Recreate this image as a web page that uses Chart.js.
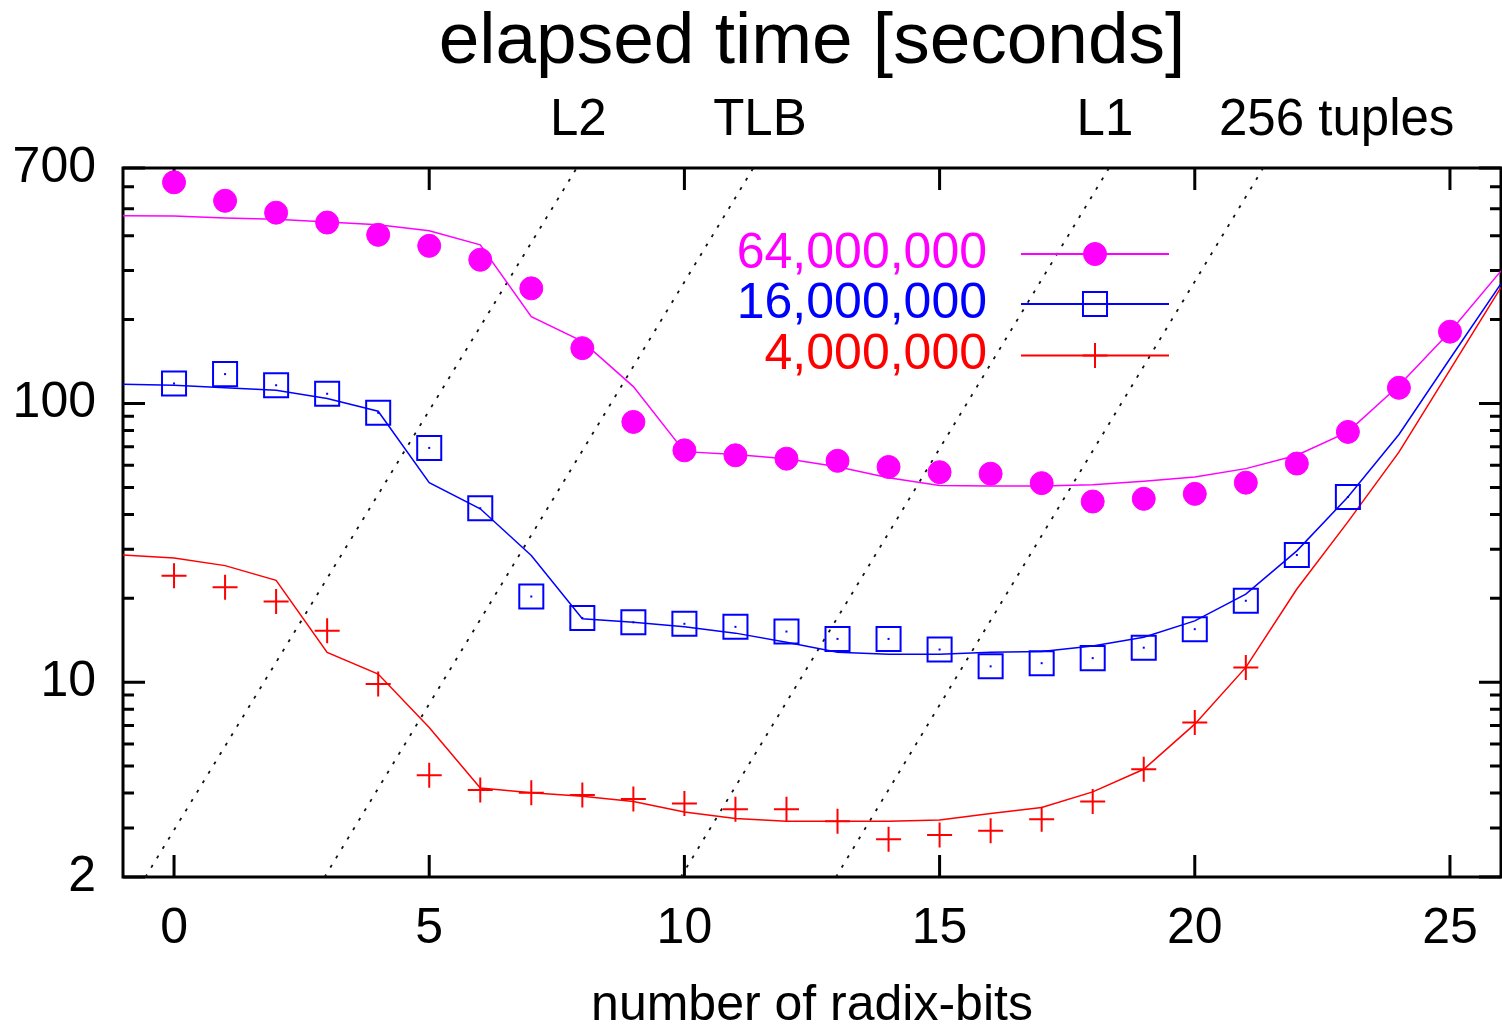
<!DOCTYPE html>
<html>
<head>
<meta charset="utf-8">
<script src="https://cdn.jsdelivr.net/npm/chart.js@4/dist/chart.umd.min.js"></script>
<style>
html,body{margin:0;padding:0;background:#fff;}
canvas{display:block;}
</style>
</head>
<body>
<canvas id="c" width="1502" height="1027"></canvas>
<script>
// ---------- data ----------
const bits = [0,1,2,3,4,5,6,7,8,9,10,11,12,13,14,15,16,17,18,19,20,21,22,23,24,25];
const xTicks = [0,5,10,15,20,25];
const yTicks = [2,10,100,700];
const yMinorTicks = [3,4,5,6,7,8,9,20,30,40,50,60,70,80,90,200,300,400,500,600];
const seriesNames = ['64,000,000','16,000,000','4,000,000'];
const seriesColors = ['#ff00ff','#0000ff','#ff0000'];

// measured points (seconds)
const measured64M = [622,534,484,446,403,368,328,259,158,85.9,67.9,65.2,63.4,62.3,59.2,56.7,56.0,51.8,44.5,45.5,47.4,52.0,60.9,79.1,113.9,181];
const measured16M = [118,127.5,116.3,108.4,92.6,69.3,42.1,20.3,17.0,16.4,16.2,15.8,15.2,14.3,14.3,13.1,11.4,11.7,12.2,13.3,15.5,19.6,28.6,46.2];
const measured4M  = [24.1,21.9,19.5,15.3,9.85,4.64,4.10,4.01,3.94,3.81,3.67,3.50,3.50,3.17,2.73,2.83,2.93,3.22,3.73,4.87,7.17,11.3];

// model curves
const modelBits = [-1,0,1,2,3,4,5,6,7,8,9,10,11,12,13,14,15,16,17,18,19,20,21,22,23,24,25,26];
const model64M = [472,471,463,458,448,438,417,371,205,167,115,67.2,65.6,63.4,59.3,54.2,50.8,50.6,50.6,51.1,52.6,54.5,58.4,65.2,79.1,116,181,299];
const model16M = [117.3,116.3,114,111.6,104.2,93.8,52.0,41.9,28.5,16.9,16.4,15.8,15.0,13.9,12.8,12.6,12.6,12.8,12.9,13.5,14.5,16.6,20.7,29.6,46.2,77.4,144.8,269];
const model4M  = [28.6,27.9,26.2,23.2,12.8,10.7,6.88,4.17,4.01,3.9,3.73,3.42,3.24,3.17,3.17,3.17,3.2,3.38,3.55,4.04,4.87,7.07,11.3,21.6,37.6,66.9,132,261];

// cache-size reference lines
const cacheLabels = ['L2','TLB','L1','256 tuples'];
const cacheLabelBits = [7.92,11.48,18.24,22.78];
const cacheLineLowBits  = [-0.56,2.95,9.93,12.97];  // where each line meets 2 s
const cacheLineHighBits = [7.89,11.35,18.32,21.34]; // where each line meets 700 s
const cacheLineLowY = 2, cacheLineHighY = 700;

// ---------- helpers ----------
const FONT = "'Liberation Sans', Arial, Helvetica, sans-serif";
const pts = (xs, ys) => ys.map((v, i) => ({x: xs[i], y: v}));

const markerStyles = [
  {pointStyle:'circle', radius:11.5, borderWidth:1, fill:true},
  {pointStyle:'rect', radius:17, borderWidth:2, fill:false},
  {pointStyle:'cross', radius:12.5, borderWidth:2, fill:false}
];

const measured = [measured64M, measured16M, measured4M];
const models = [model64M, model16M, model4M];

const datasets = [];
for (let s = 0; s < 3; s++) {
  const m = markerStyles[s];
  datasets.push({
    label: seriesNames[s],
    data: pts(bits, measured[s]),
    showLine: false,
    pointStyle: m.pointStyle,
    pointRadius: m.radius,
    pointBorderWidth: m.borderWidth,
    pointBorderColor: seriesColors[s],
    pointBackgroundColor: m.fill ? seriesColors[s] : 'rgba(0,0,0,0)',
    order: 1
  });
  datasets.push({
    label: seriesNames[s] + ' model',
    data: pts(modelBits, models[s]),
    showLine: true,
    borderColor: seriesColors[s],
    borderWidth: 1.5,
    pointRadius: 0,
    tension: 0,
    order: 2
  });
}
for (let k = 0; k < cacheLabels.length; k++) {
  datasets.push({
    label: cacheLabels[k],
    data: [{x: cacheLineLowBits[k], y: cacheLineLowY}, {x: cacheLineHighBits[k], y: cacheLineHighY}],
    showLine: true,
    borderColor: '#111',
    borderWidth: 1.8,
    borderDash: [3, 8],
    pointRadius: 0,
    order: 10
  });
}

// ---------- gnuplot-like frame, legend and labels ----------
const gnuplotLook = {
  id: 'gnuplotLook',
  beforeDatasetsDraw(chart) {
    const {ctx, chartArea: a, scales: {x, y}} = chart;
    ctx.save();
    ctx.strokeStyle = '#000';
    ctx.lineWidth = 3;
    ctx.beginPath();
    xTicks.forEach(v => {
      const px = x.getPixelForValue(v);
      ctx.moveTo(px, a.bottom); ctx.lineTo(px, a.bottom - 22);
      ctx.moveTo(px, a.top); ctx.lineTo(px, a.top + 22);
    });
    yTicks.forEach(v => {
      const py = y.getPixelForValue(v);
      ctx.moveTo(a.left, py); ctx.lineTo(a.left + 22, py);
      ctx.moveTo(a.right, py); ctx.lineTo(a.right - 22, py);
    });
    yMinorTicks.forEach(v => {
      const py = y.getPixelForValue(v);
      ctx.moveTo(a.left, py); ctx.lineTo(a.left + 11, py);
      ctx.moveTo(a.right, py); ctx.lineTo(a.right - 11, py);
    });
    ctx.stroke();
    ctx.strokeRect(a.left, a.top, a.right - a.left, a.bottom - a.top);
    ctx.restore();
  },
  afterDatasetsDraw(chart) {
    const {ctx} = chart;
    // tiny centre dots in the open squares
    const meta = chart.getDatasetMeta(2);
    ctx.save();
    ctx.fillStyle = seriesColors[1];
    meta.data.forEach(p => ctx.fillRect(p.x - 1, p.y - 1, 2, 2));
    ctx.restore();
  },
  afterDraw(chart) {
    const {ctx, scales: {x}} = chart;
    ctx.save();
    // cache labels above the plot
    ctx.font = '51px ' + FONT;
    ctx.fillStyle = '#000';
    ctx.textAlign = 'center';
    ctx.textBaseline = 'alphabetic';
    cacheLabels.forEach((t, k) => ctx.fillText(t, x.getPixelForValue(cacheLabelBits[k]), 135));
    // legend
    const legendY = [254, 304, 355.5];
    ctx.font = '50px ' + FONT;
    ctx.textAlign = 'right';
    ctx.textBaseline = 'middle';
    for (let s = 0; s < 3; s++) {
      const yy = legendY[s];
      ctx.fillStyle = seriesColors[s];
      ctx.fillText(seriesNames[s], 987, yy);
      ctx.strokeStyle = seriesColors[s];
      ctx.lineWidth = 2;
      ctx.beginPath(); ctx.moveTo(1021, yy); ctx.lineTo(1169, yy); ctx.stroke();
      const m = markerStyles[s];
      ctx.fillStyle = m.fill ? seriesColors[s] : 'rgba(0,0,0,0)';
      ctx.lineWidth = m.borderWidth;
      Chart.helpers.drawPoint(ctx, {pointStyle: m.pointStyle, radius: m.radius, rotation: 0, borderWidth: m.borderWidth}, 1095, yy);
    }
    ctx.restore();
  }
};

new Chart(document.getElementById('c'), {
  type: 'scatter',
  data: {datasets},
  plugins: [gnuplotLook],
  options: {
    responsive: false,
    animation: false,
    devicePixelRatio: 1,
    events: [],
    layout: {autoPadding: false, padding: {left: 0, right: 1, top: 0, bottom: 0}},
    plugins: {
      legend: {display: false},
      tooltip: {enabled: false},
      title: {
        display: true,
        text: 'elapsed time [seconds]',
        fullSize: false,
        color: '#000',
        font: {family: FONT, size: 73, weight: 'normal', lineHeight: 1},
        padding: {top: 6.5, bottom: 88.5}
      }
    },
    scales: {
      x: {
        type: 'linear',
        position: 'bottom',
        min: -1, max: 26,
        afterBuildTicks: s => { s.ticks = xTicks.map(v => ({value: v})); },
        afterFit: s => { s.height = 150; s.paddingLeft = 0; s.paddingRight = 0; },
        grid: {display: false, drawTicks: false},
        border: {display: false},
        ticks: {
          color: '#000', padding: 27, maxRotation: 0, autoSkip: false,
          font: {family: FONT, size: 50, lineHeight: 1},
          callback: v => String(v)
        },
        title: {
          display: true, text: 'number of radix-bits', color: '#000',
          font: {family: FONT, size: 50, lineHeight: 0.8},
          padding: {top: 0, bottom: 1}
        }
      },
      y: {
        type: 'logarithmic',
        position: 'left',
        min: 2, max: 700,
        afterBuildTicks: s => { s.ticks = yTicks.map(v => ({value: v})); },
        afterFit: s => { s.width = 123; s.paddingTop = 0; s.paddingBottom = 0; },
        grid: {display: false, drawTicks: false},
        border: {display: false},
        ticks: {
          color: '#000', padding: 27, autoSkip: false,
          font: {family: FONT, size: 50, lineHeight: 1},
          callback: v => String(v)
        }
      }
    }
  }
});
</script>
</body>
</html>
